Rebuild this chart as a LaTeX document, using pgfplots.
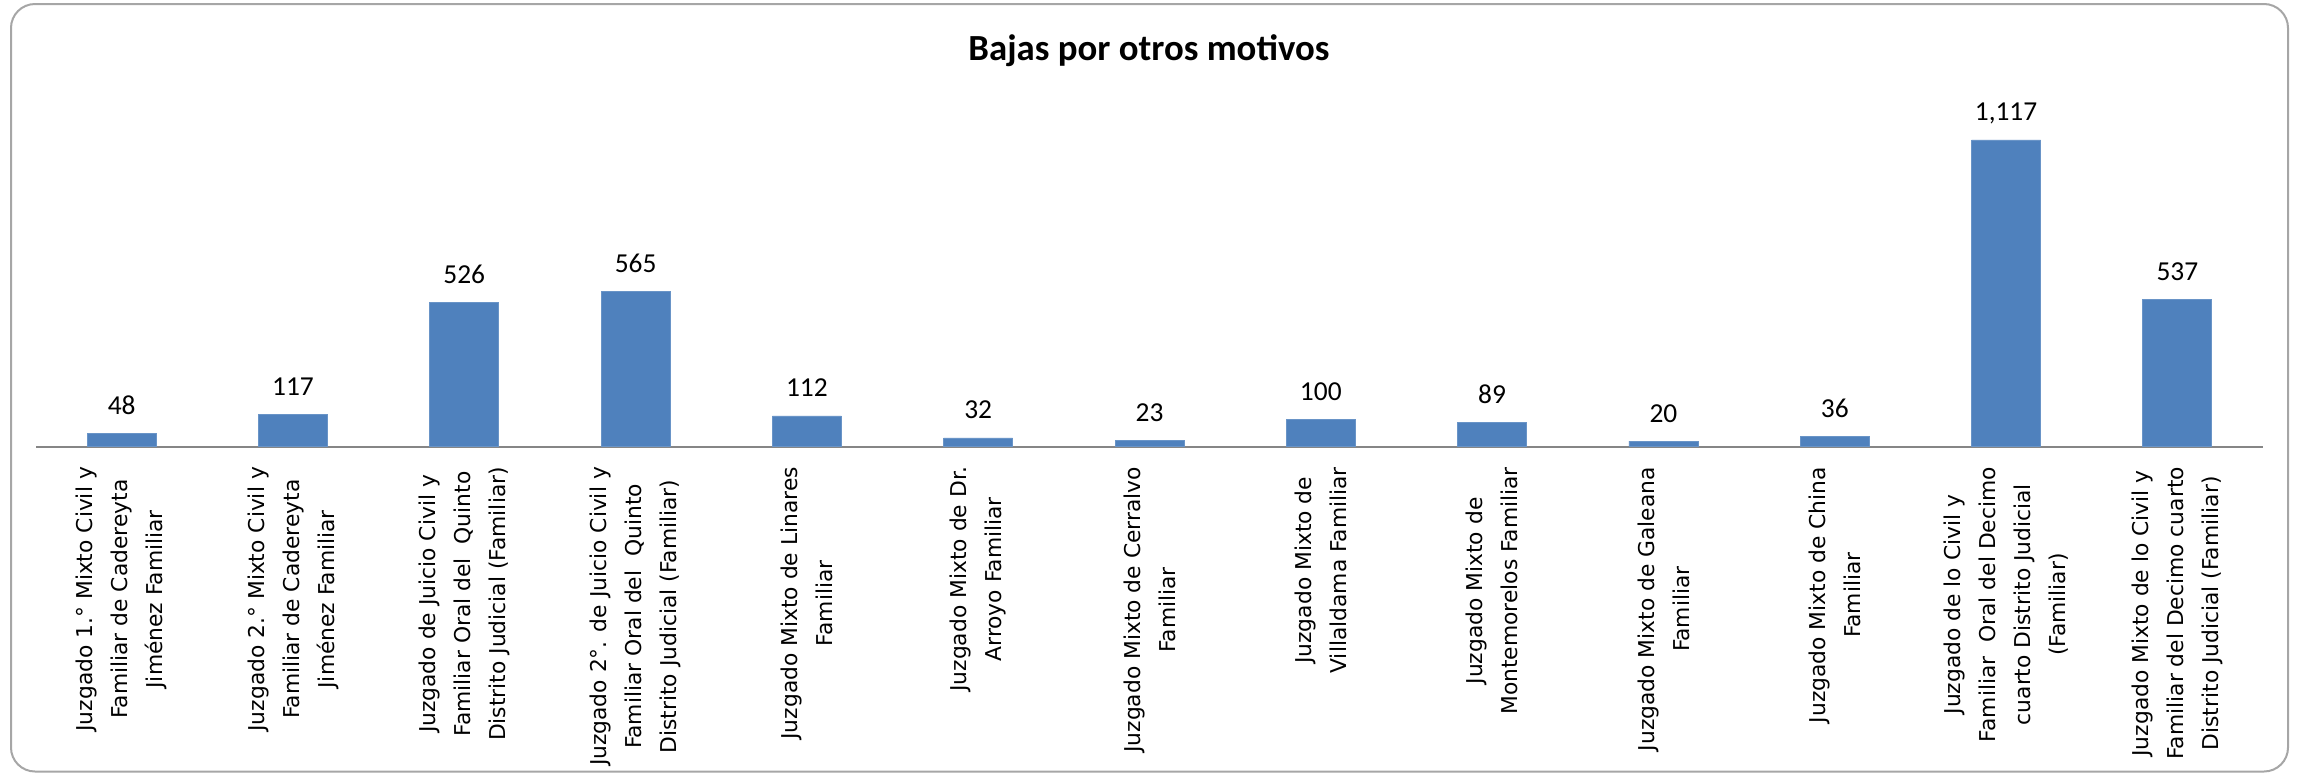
\documentclass[border=0pt]{standalone}
\usepackage{fontspec}
\setmainfont{Carlito}
\newfontfamily\labelfont{DejaVu Sans}
\usepackage{pgfplots}
\pgfplotsset{compat=1.18}
\definecolor{barblue}{RGB}{79,129,189}
\definecolor{axisgray}{RGB}{134,134,134}
\definecolor{framegray}{RGB}{166,166,166}

\begin{document}
\begin{tikzpicture}
\begin{axis}[
    at={(0pt,0pt)}, anchor=south west,
    scale only axis,
    width=1113.5pt, height=178.5pt,
    xmin=-0.5, xmax=12.5,
    ymin=0, ymax=1300,
    clip=false,
    hide y axis,
    axis x line*=bottom,
    x axis line style={axisgray, line width=1pt},
    major tick length=0pt,
    xtick={0,...,12},
    xticklabels={
        {Juzgado 1.° Mixto Civil y\\Familiar de Cadereyta\\Jiménez Familiar},
        {Juzgado 2.° Mixto Civil y\\Familiar de Cadereyta\\Jiménez Familiar},
        {Juzgado de Juicio Civil y\\Familiar Oral del\ \ Quinto\\Distrito Judicial (Familiar)},
        {Juzgado 2°. de Juicio Civil y\\Familiar Oral del\ \ Quinto\\Distrito Judicial (Familiar)},
        {Juzgado Mixto de Linares\\Familiar},
        {Juzgado Mixto de Dr.\\Arroyo Familiar},
        {Juzgado Mixto de Cerralvo\\Familiar},
        {Juzgado Mixto de\\Villaldama Familiar},
        {Juzgado Mixto de\\Montemorelos Familiar},
        {Juzgado Mixto de Galeana\\Familiar},
        {Juzgado Mixto de China\\Familiar},
        {Juzgado de lo Civil y\\Familiar\ \ Oral del Decimo\\cuarto Distrito Judicial\\(Familiar)},
        {Juzgado Mixto de lo Civil y\\Familiar del Decimo cuarto\\Distrito Judicial (Familiar)}
    },
    xticklabel style={rotate=90, anchor=east, align=center, inner sep=0pt,
        font=\labelfont\fontsize{10.9}{17.5}\selectfont},
    xticklabel shift=10pt,
    /pgf/number format/assume math mode=true,
    /pgf/number format/1000 sep={,},
    ybar, bar width=34.5pt,
    nodes near coords,
    every node near coord/.append style={anchor=base, inner sep=0pt, yshift=9.5pt,
        font=\fontsize{13.7}{16}\selectfont, text=black},
]
\addplot[fill=barblue, draw=barblue!85!white] coordinates {
    (0,48) (1,117) (2,526) (3,565) (4,112) (5,32) (6,23)
    (7,100) (8,89) (9,20) (10,36) (11,1117) (12,537)
};
\end{axis}
\node[anchor=base, font=\bfseries\fontsize{18.4}{22}\selectfont] at (556.5pt,193.35pt) {Bajas por otros motivos};
\draw[framegray, line width=1pt, rounded corners=12pt] (-12.5pt,-162.4pt) rectangle (1126pt,221.35pt);
\pgfresetboundingbox
\useasboundingbox (-18pt,-163.15pt) rectangle (1131pt,223.35pt);
\end{tikzpicture}
\end{document}
